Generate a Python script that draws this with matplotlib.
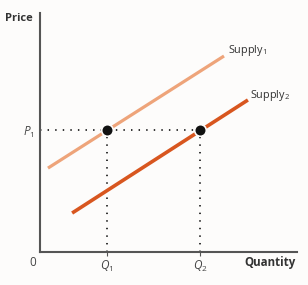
import matplotlib.pyplot as plt

# supply curves (endpoints, chart units 0..10)
s1_x = [0.31, 7.16]
s1_y = [3.51, 8.20]
s2_x = [1.25, 8.09]
s2_y = [1.63, 6.36]

# equilibrium points
q_vals = [2.61, 6.23]
p_val = 5.10
q_labels = ["$Q_1$", "$Q_2$"]

plt.rcParams['font.family'] = ['Open Sans', 'DejaVu Sans']
plt.rcParams['mathtext.fontset'] = 'custom'
plt.rcParams['mathtext.it'] = 'Open Sans:italic'
plt.rcParams['mathtext.rm'] = 'Open Sans'

fig = plt.figure(figsize=(3.08, 2.85), dpi=100, facecolor="#fdfcfb")
ax = fig.add_axes([40/308, 33/285, 257/308, 239/285])
ax.set_facecolor("#fdfcfb")
ax.set_xlim(0, 10)
ax.set_ylim(0, 10)

for side in ["top", "right"]:
    ax.spines[side].set_visible(False)
for side in ["left", "bottom"]:
    ax.spines[side].set_color("#555555")
    ax.spines[side].set_linewidth(1.5)

ax.plot(s1_x, s1_y, color="#eea47a", lw=2.3, solid_capstyle="butt")
ax.plot(s2_x, s2_y, color="#d8561f", lw=2.6, solid_capstyle="butt")

# dotted guide lines
ax.plot([0, q_vals[1]], [p_val, p_val], color="#222222", lw=1.3,
        linestyle=(0, (0.8, 3.4)), zorder=1)
for q in q_vals:
    ax.plot([q, q], [0, p_val], color="#222222", lw=1.3,
            linestyle=(0, (0.8, 3.4)), zorder=1)

ax.scatter(q_vals, [p_val, p_val], s=70, color="#111111", zorder=5,
           edgecolors="#fdfcfb", linewidths=1.2)

ax.set_xticks(q_vals)
ax.set_xticklabels(q_labels, fontsize=8.5, color="#444444")
ax.set_yticks([p_val])
ax.set_yticklabels(["$P_1$"], fontsize=8.5, color="#444444")
ax.tick_params(axis="x", length=3, width=0.8, color="#555555", pad=2)
ax.tick_params(axis="y", length=0, pad=4)

ax.text(-0.27, -0.46, "0", ha="center", va="center", fontsize=8.5, color="#444444")
ax.text(9.96, -0.46, "Quantity", ha="right", va="center", fontsize=8.3,
        fontweight="bold", color="#333333")
ax.text(-0.27, 9.79, "Price", ha="right", va="center", fontsize=8,
        fontweight="bold", color="#333333")

ax.text(7.32, 8.45, "Supply$_1$", ha="left", va="center", fontsize=7.8, color="#333333")
ax.text(8.17, 6.53, "Supply$_2$", ha="left", va="center", fontsize=7.8, color="#333333")

fig.savefig("out.png", dpi=100, facecolor=fig.get_facecolor())
